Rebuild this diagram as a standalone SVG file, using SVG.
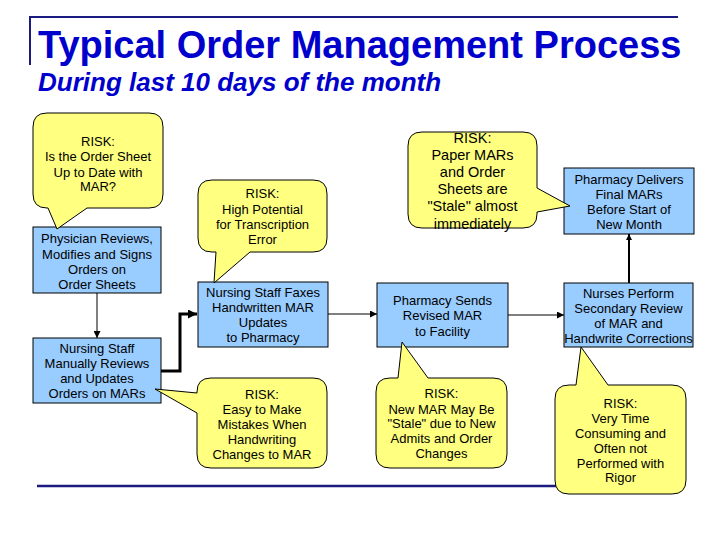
<svg xmlns="http://www.w3.org/2000/svg" width="720" height="540" viewBox="0 0 720 540">
<defs>
<style>
.box{fill:#99CCFF;stroke:#000;stroke-width:1}
.call{fill:#FFFF80;stroke:#000;stroke-width:1;stroke-linejoin:round}
.t{font-family:"Liberation Sans",Arial,sans-serif;font-size:13px;fill:#000;text-anchor:middle}
.t4{font-family:"Liberation Sans",Arial,sans-serif;font-size:14.5px;fill:#000;text-anchor:middle}
.ln{fill:none;stroke:#000;stroke-width:1}
.lnb{fill:none;stroke:#000;stroke-width:3}
.frame{stroke:#1A1A80;stroke-width:2;fill:none}
</style>
<marker id="ah" viewBox="0 0 10 10" refX="10" refY="5" markerWidth="7" markerHeight="7" markerUnits="userSpaceOnUse" orient="auto">
<path d="M0,0 L10,5 L0,10 Z" fill="#000"/>
</marker>
<marker id="ahb" viewBox="0 0 10 10" refX="10" refY="5" markerWidth="3" markerHeight="3" orient="auto">
<path d="M0,0 L10,5 L0,10 Z" fill="#000"/>
</marker>
</defs>
<rect width="720" height="540" fill="#fff"/>
<g id="title">
<path class="frame" d="M30,65 V17 H678"/>
<text x="38" y="58" font-family="'Liberation Sans',Arial,sans-serif" font-weight="bold" font-size="38" fill="#0000CC">Typical Order Management Process</text>
<text x="38" y="91" font-family="'Liberation Sans',Arial,sans-serif" font-weight="bold" font-style="italic" font-size="26" fill="#0000CC">During last 10 days of the month</text>
</g>
<line x1="37" y1="486" x2="556" y2="486" stroke="#1A1A80" stroke-width="2.5"/>
<g id="connectors">
<line class="ln" x1="97" y1="293" x2="97" y2="338" marker-end="url(#ah)"/>
<polyline class="lnb" points="161,371 180,371 180,314 197,314" marker-end="url(#ahb)"/>
<line class="ln" x1="328" y1="314" x2="377" y2="314" marker-end="url(#ah)"/>
<line class="ln" x1="508" y1="315" x2="564" y2="315" marker-end="url(#ah)"/>
<line x1="629" y1="283" x2="629" y2="234" stroke="#000" stroke-width="2" marker-end="url(#ahb)"/>
</g>
<g id="n_physician">
<rect class="box" x="33" y="227" width="128" height="66"/>
<text class="t" x="97" y="243">Physician Reviews,</text>
<text class="t" x="97" y="258.5">Modifies and Signs</text>
<text class="t" x="97" y="274">Orders on</text>
<text class="t" x="97" y="289">Order Sheets</text>
</g>
<g id="n_nursing_manual">
<rect class="box" x="33" y="338" width="128" height="65"/>
<text class="t" x="97" y="353">Nursing Staff</text>
<text class="t" x="97" y="368">Manually Reviews</text>
<text class="t" x="97" y="383">and Updates</text>
<text class="t" x="97" y="398">Orders on MARs</text>
</g>
<g id="n_faxes">
<rect class="box" x="198" y="282" width="130" height="65"/>
<text class="t" x="263" y="297">Nursing Staff Faxes</text>
<text class="t" x="263" y="312">Handwritten MAR</text>
<text class="t" x="263" y="327">Updates</text>
<text class="t" x="263" y="342">to Pharmacy</text>
</g>
<g id="n_pharmacy_sends">
<rect class="box" x="377" y="283" width="131" height="64"/>
<text class="t" x="442.5" y="305">Pharmacy Sends</text>
<text class="t" x="442.5" y="320">Revised MAR</text>
<text class="t" x="442.5" y="335.5">to Facility</text>
</g>
<g id="n_pharmacy_delivers">
<rect class="box" x="564" y="168" width="130" height="66"/>
<text class="t" x="629" y="184">Pharmacy Delivers</text>
<text class="t" x="629" y="199">Final MARs</text>
<text class="t" x="629" y="214">Before Start of</text>
<text class="t" x="629" y="229">New Month</text>
</g>
<g id="n_nurses_perform">
<rect class="box" x="564" y="283" width="129" height="64"/>
<text class="t" x="628.5" y="298">Nurses Perform</text>
<text class="t" x="628.5" y="313">Secondary Review</text>
<text class="t" x="628.5" y="328">of MAR and</text>
<text class="t" x="628.5" y="343">Handwrite Corrections</text>
</g>
<g id="risk_order_sheet">
<path class="call" d="M47,113 H149 Q163,113 163,127 V194 Q163,208 149,208 H87 L57,229 L48,208 H47 Q33,208 33,194 V127 Q33,113 47,113 Z"/>
<text class="t" x="98" y="146">RISK:</text>
<text class="t" x="98" y="161">Is the Order Sheet</text>
<text class="t" x="98" y="176.5">Up to Date with</text>
<text class="t" x="98" y="191">MAR?</text>
</g>
<g id="risk_transcription">
<path class="call" d="M212,180 H313 Q327,180 327,194 V238 Q327,252 313,252 H250 L214,283 L216,252 H212 Q198,252 198,238 V194 Q198,180 212,180 Z"/>
<text class="t" x="262.5" y="198">RISK:</text>
<text class="t" x="262.5" y="213.5">High Potential</text>
<text class="t" x="262.5" y="229">for Transcription</text>
<text class="t" x="262.5" y="244">Error</text>
</g>
<g id="risk_handwriting">
<path class="call" d="M211,378 H313 Q327,378 327,392 V454 Q327,468 313,468 H211 Q197,468 197,454 V413 L155,389 L197,393 V392 Q197,378 211,378 Z"/>
<text class="t" x="262" y="398.5">RISK:</text>
<text class="t" x="262" y="413.5">Easy to Make</text>
<text class="t" x="262" y="428.5">Mistakes When</text>
<text class="t" x="262" y="443.5">Handwriting</text>
<text class="t" x="262" y="458.5">Changes to MAR</text>
</g>
<g id="risk_paper_mars">
<path class="call" d="M422,132 H523 Q537,132 537,146 V188 L570,206 L537,212 V214 Q537,228 523,228 H422 Q408,228 408,214 V146 Q408,132 422,132 Z"/>
<text class="t4" x="472.5" y="142.5">RISK:</text>
<text class="t4" x="472.5" y="160">Paper MARs</text>
<text class="t4" x="472.5" y="177">and Order</text>
<text class="t4" x="472.5" y="194">Sheets are</text>
<text class="t4" x="472.5" y="211">"Stale" almost</text>
<text class="t4" x="472.5" y="228.5">immediately</text>
</g>
<g id="risk_new_mar">
<path class="call" d="M390,378 H398 L402,342 L428,378 H493 Q507,378 507,392 V454 Q507,468 493,468 H390 Q376,468 376,454 V392 Q376,378 390,378 Z"/>
<text class="t" x="441.5" y="398">RISK:</text>
<text class="t" x="441.5" y="413.5">New MAR May Be</text>
<text class="t" x="441.5" y="428">"Stale" due to New</text>
<text class="t" x="441.5" y="443">Admits and Order</text>
<text class="t" x="441.5" y="458">Changes</text>
</g>
<g id="risk_time">
<path class="call" d="M569,385 H576 L581,347 L608,385 H672 Q686,385 686,399 V480 Q686,494 672,494 H569 Q555,494 555,480 V399 Q555,385 569,385 Z"/>
<text class="t" x="620.5" y="408">RISK:</text>
<text class="t" x="620.5" y="423">Very Time</text>
<text class="t" x="620.5" y="438">Consuming and</text>
<text class="t" x="620.5" y="453">Often not</text>
<text class="t" x="620.5" y="468">Performed with</text>
<text class="t" x="620.5" y="482">Rigor</text>
</g>
</svg>
